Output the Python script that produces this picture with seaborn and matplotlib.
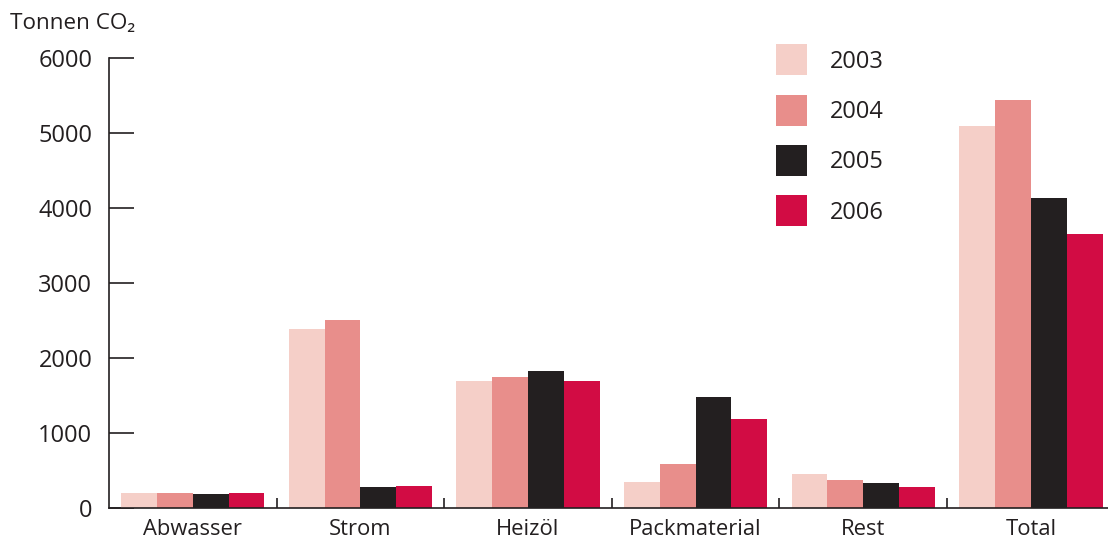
import matplotlib
matplotlib.use("Agg")
import matplotlib.pyplot as plt
import seaborn as sns
import pandas as pd
from matplotlib.patches import Patch
from matplotlib.ticker import FixedLocator

categories = ["Abwasser", "Strom", "Heizöl", "Packmaterial", "Rest", "Total"]
years = ["2003", "2004", "2005", "2006"]
v2003 = [196, 2387, 1693, 347, 453, 5090]
v2004 = [196, 2507, 1747, 587, 373, 5440]
v2005 = [182, 276, 1827, 1480, 329, 4133]
v2006 = [196, 293, 1693, 1187, 280, 3653]
yticks = [0, 1000, 2000, 3000, 4000, 5000, 6000]
colors = ["#F5CFC8", "#E88E8B", "#231F20", "#D20C44"]
ink = "#231F20"

rows = []
for y, vals in zip(years, [v2003, v2004, v2005, v2006]):
    for c, v in zip(categories, vals):
        rows.append({"Kategorie": c, "Jahr": y, "Wert": v})
df = pd.DataFrame(rows)

sns.set_theme(style="white")
plt.rcParams["font.family"] = ["Open Sans", "DejaVu Sans"]

fig = plt.figure(figsize=(11.08, 5.42), dpi=100)
ax = fig.add_axes([109 / 1108, 34 / 542, 999 / 1108, 450 / 542])

sns.barplot(data=df, x="Kategorie", y="Wert", hue="Jahr", order=categories,
            hue_order=years, palette=colors, width=0.855, gap=0,
            saturation=1, linewidth=0, errorbar=None, ax=ax)

ax.set_xlim(-0.5, 5.46)
ax.set_ylim(0, 6000)
ax.set_yticks(yticks)
ax.set_yticklabels([str(t) for t in yticks])
ax.set_xlabel("")
ax.set_ylabel("")

for s in ["top", "right"]:
    ax.spines[s].set_visible(False)
for s in ["left", "bottom"]:
    ax.spines[s].set_color(ink)
    ax.spines[s].set_linewidth(1.2)

ax.tick_params(axis="y", direction="in", length=18, width=1.2, color=ink,
               labelsize=17, labelcolor=ink, pad=12, left=True)
ax.tick_params(axis="x", which="major", length=0, labelsize=15.8,
               labelcolor=ink, pad=8)
ax.xaxis.set_minor_locator(FixedLocator([0.5, 1.5, 2.5, 3.5, 4.5]))
ax.tick_params(axis="x", which="minor", direction="in", length=7, width=1.2,
               color=ink, bottom=True)

handles = [Patch(facecolor=c, edgecolor="none") for c in colors]
leg = ax.legend(handles, years, loc="upper left",
                bbox_to_anchor=((776 - 109) / 999, 1.03),
                frameon=False, fontsize=17, handlelength=1.31,
                handleheight=1.64, labelspacing=0.82, handletextpad=0.97,
                borderaxespad=0, borderpad=0)
for t in leg.get_texts():
    t.set_color(ink)

fig.text(10 / 1108, 1 - 24 / 542, "Tonnen CO₂", fontsize=16.2, color=ink,
         va="center", ha="left", family=["Open Sans", "DejaVu Sans"])

fig.savefig("out.png", dpi=100, facecolor="white")
